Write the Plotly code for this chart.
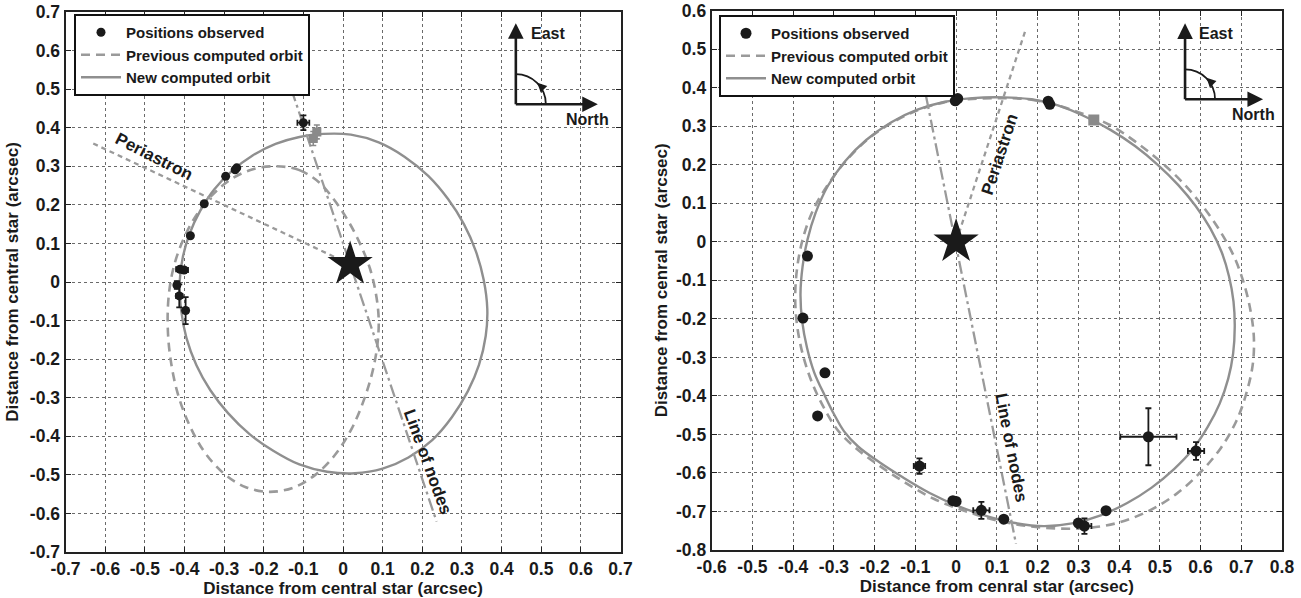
import plotly.graph_objects as go

# ---------------- data ----------------
# Left panel
LEFT_OBS_X = [-0.100, -0.268, -0.272, -0.296, -0.350, -0.385, -0.411, -0.401, -0.419, -0.413, -0.397]
LEFT_OBS_Y = [0.413, 0.296, 0.291, 0.274, 0.203, 0.120, 0.033, 0.031, -0.008, -0.036, -0.074]
LEFT_OBS_EX = [0.015, 0.004, 0.0, 0.0, 0.0, 0.0, 0.010, 0.010, 0.006, 0.008, 0.006]
LEFT_OBS_EY = [0.019, 0.004, 0.0, 0.0, 0.0, 0.0, 0.006, 0.006, 0.010, 0.030, 0.035]
LEFT_GREY_X = [-0.066, -0.075]
LEFT_GREY_Y = [0.389, 0.372]
LEFT_GREY_EX = [0.008, 0.008]
LEFT_GREY_EY = [0.018, 0.018]
LEFT_STAR_X = [0.018]
LEFT_STAR_Y = [0.046]

LEFT_NEW_X = [-0.050, 0.020, 0.090, 0.155, 0.215, 0.265, 0.305, 0.335, 0.355, 0.364, 0.360, 0.343,
              0.315, 0.275, 0.225, 0.165, 0.100, 0.030, -0.040, -0.110, -0.175, -0.235, -0.290,
              -0.335, -0.370, -0.395, -0.408, -0.412, -0.404, -0.387, -0.360, -0.325, -0.280,
              -0.228, -0.170, -0.110, -0.050]
LEFT_NEW_Y = [0.384, 0.382, 0.362, 0.325, 0.275, 0.215, 0.150, 0.080, 0.005, -0.070, -0.140, -0.215,
              -0.283, -0.350, -0.410, -0.455, -0.484, -0.496, -0.492, -0.473, -0.438, -0.395, -0.340,
              -0.280, -0.215, -0.145, -0.075, 0.000, 0.065, 0.125, 0.185, 0.240, 0.288,
              0.328, 0.358, 0.376, 0.384]

LEFT_PREV_X = [-0.167, -0.110, -0.060, -0.020, 0.015, 0.045, 0.068, 0.083, 0.090, 0.087, 0.075, 0.053,
               0.022, -0.020, -0.070, -0.125, -0.185, -0.245, -0.300, -0.350, -0.390, -0.418, -0.435,
               -0.442, -0.440, -0.428, -0.405, -0.372, -0.330, -0.280, -0.225, -0.167]
LEFT_PREV_Y = [0.300, 0.290, 0.258, 0.210, 0.155, 0.095, 0.035, -0.030, -0.095, -0.160, -0.230, -0.305,
               -0.380, -0.448, -0.500, -0.533, -0.544, -0.532, -0.497, -0.440, -0.365, -0.285, -0.200,
               -0.120, -0.040, 0.035, 0.105, 0.170, 0.225, 0.268, 0.293, 0.300]

LEFT_PERI_X = [-0.630, 0.018]
LEFT_PERI_Y = [0.359, 0.046]
LEFT_NODES_X = [-0.150, 0.236]
LEFT_NODES_Y = [0.560, -0.621]

# Right panel
RIGHT_OBS_X = [0.004, -0.002, 0.226, 0.230, -0.365, -0.376, -0.322, -0.340, -0.090, -0.008, 0.000,
               0.062, 0.117, 0.300, 0.315, 0.368, 0.472, 0.589]
RIGHT_OBS_Y = [0.372, 0.366, 0.365, 0.357, -0.037, -0.198, -0.340, -0.452, -0.582, -0.672, -0.674,
               -0.697, -0.720, -0.730, -0.738, -0.698, -0.506, -0.543]
RIGHT_OBS_EX = [0.006, 0.006, 0.006, 0.006, 0.0, 0.0, 0.008, 0.008, 0.014, 0.006, 0.006,
                0.020, 0.0, 0.006, 0.017, 0.0, 0.069, 0.020]
RIGHT_OBS_EY = [0.006, 0.006, 0.008, 0.008, 0.0, 0.0, 0.008, 0.008, 0.020, 0.006, 0.006,
                0.022, 0.0, 0.006, 0.020, 0.0, 0.074, 0.023]
RIGHT_GREY_X = [0.338]
RIGHT_GREY_Y = [0.316]
RIGHT_GREY_EX = [0.010]
RIGHT_GREY_EY = [0.010]
RIGHT_STAR_X = [0.000]
RIGHT_STAR_Y = [0.000]

RIGHT_NEW_X = [0.116, 0.185, 0.250, 0.315, 0.380, 0.440, 0.495, 0.545, 0.588, 0.624, 0.652, 0.670,
               0.681, 0.684, 0.680, 0.668, 0.647, 0.618, 0.580, 0.535, 0.480, 0.420, 0.355, 0.285,
               0.215, 0.145, 0.075, 0.005, -0.065, -0.130, -0.190, -0.240, -0.275, -0.300, -0.322,
               -0.348, -0.366, -0.378, -0.382, -0.377, -0.365, -0.345, -0.315, -0.272, -0.220,
               -0.160, -0.095, -0.030, 0.040, 0.116]
RIGHT_NEW_Y = [0.375, 0.370, 0.354, 0.326, 0.290, 0.248, 0.200, 0.148, 0.093, 0.035, -0.027, -0.090,
               -0.155, -0.220, -0.290, -0.355, -0.420, -0.480, -0.540, -0.590, -0.638, -0.678, -0.710,
               -0.731, -0.738, -0.730, -0.712, -0.686, -0.652, -0.612, -0.571, -0.532, -0.492, -0.447,
               -0.400, -0.340, -0.275, -0.205, -0.135, -0.065, 0.005, 0.075, 0.145, 0.210, 0.265,
               0.310, 0.343, 0.363, 0.373, 0.375]

RIGHT_PREV_X = [0.116, 0.185, 0.250, 0.315, 0.380, 0.440, 0.500, 0.555, 0.605, 0.648, 0.683, 0.707,
                0.723, 0.731, 0.728, 0.712, 0.688, 0.650, 0.600, 0.540, 0.470, 0.395, 0.320, 0.245,
                0.170, 0.095, 0.020, -0.055, -0.125, -0.194, -0.250, -0.292, -0.325, -0.355, -0.377,
                -0.390, -0.395, -0.391, -0.377, -0.352, -0.318, -0.272, -0.218, -0.158, -0.093,
                -0.030, 0.040, 0.116]
RIGHT_PREV_Y = [0.373, 0.369, 0.354, 0.331, 0.302, 0.260, 0.210, 0.155, 0.093, 0.028, -0.040, -0.110,
                -0.180, -0.250, -0.320, -0.395, -0.465, -0.535, -0.598, -0.655, -0.700, -0.730, -0.743,
                -0.744, -0.737, -0.722, -0.698, -0.667, -0.625, -0.577, -0.532, -0.487, -0.430, -0.362,
                -0.290, -0.220, -0.150, -0.074, 0.005, 0.080, 0.143, 0.208, 0.265, 0.309, 0.342,
                0.362, 0.371, 0.373]

RIGHT_PERI_X = [0.000, 0.172]
RIGHT_PERI_Y = [0.000, 0.555]
RIGHT_NODES_X = [-0.097, 0.147]
RIGHT_NODES_Y = [0.500, -0.784]

# axis ticks
LEFT_X_TICKS = [-0.7, -0.6, -0.5, -0.4, -0.3, -0.2, -0.1, 0.0, 0.1, 0.2, 0.3, 0.4, 0.5, 0.6, 0.7]
LEFT_X_LABELS = ["-0.7", "-0.6", "-0.5", "-0.4", "-0.3", "-0.2", "-0.1", "0", "0.1", "0.2", "0.3", "0.4", "0.5", "0.6", "0.7"]
LEFT_Y_TICKS = LEFT_X_TICKS
LEFT_Y_LABELS = LEFT_X_LABELS
RIGHT_X_TICKS = [-0.6, -0.5, -0.4, -0.3, -0.2, -0.1, 0.0, 0.1, 0.2, 0.3, 0.4, 0.5, 0.6, 0.7, 0.8]
RIGHT_X_LABELS = ["-0.6", "-0.5", "-0.4", "-0.3", "-0.2", "-0.1", "0", "0.1", "0.2", "0.3", "0.4", "0.5", "0.6", "0.7", "0.8"]
RIGHT_Y_TICKS = [-0.8, -0.7, -0.6, -0.5, -0.4, -0.3, -0.2, -0.1, 0.0, 0.1, 0.2, 0.3, 0.4, 0.5, 0.6]
RIGHT_Y_LABELS = ["-0.8", "-0.7", "-0.6", "-0.5", "-0.4", "-0.3", "-0.2", "-0.1", "0", "0.1", "0.2", "0.3", "0.4", "0.5", "0.6"]

# ---------------- styling / layout ----------------
FONT = "Liberation Sans, Arial, Helvetica, sans-serif"
INK = "#1a1a1a"
GREY_SOLID = "#8f8f8f"
GREY_DASH = "#9a9a9a"

W, H = 1301, 598
M = dict(l=65, r=19, t=10, b=46)
PW = W - M["l"] - M["r"]
PH = H - M["t"] - M["b"]


def xdom(a, b):
    return [max(0.0, (a - M["l"]) / PW), min(1.0, (b - M["l"]) / PW)]


def ydom(top, bottom):
    return [max(0.0, (H - M["b"] - bottom) / PH), min(1.0, (H - M["b"] - top) / PH)]


fig = go.Figure()


def add_panel(xa, ya, legend, new_x, new_y, prev_x, prev_y, peri_x, peri_y, nodes_x, nodes_y,
              obs_x, obs_y, obs_ex, obs_ey, gx, gy, gex, gey, sx, sy, msize):
    fig.add_trace(go.Scatter(x=prev_x, y=prev_y, mode="lines", name="Previous computed orbit",
                             line=dict(color=GREY_DASH, width=2.6, dash="9px,6px", shape="spline",
                                       smoothing=1.0, simplify=False),
                             xaxis=xa, yaxis=ya, legend=legend, legendrank=2, hoverinfo="skip"))
    fig.add_trace(go.Scatter(x=new_x, y=new_y, mode="lines", name="New computed orbit",
                             line=dict(color=GREY_SOLID, width=2.4, shape="spline", smoothing=1.0,
                                       simplify=False),
                             xaxis=xa, yaxis=ya, legend=legend, legendrank=3, hoverinfo="skip"))
    fig.add_trace(go.Scatter(x=peri_x, y=peri_y, mode="lines", showlegend=False,
                             line=dict(color=GREY_DASH, width=2.3, dash="5px,4px"),
                             xaxis=xa, yaxis=ya, hoverinfo="skip"))
    fig.add_trace(go.Scatter(x=nodes_x, y=nodes_y, mode="lines", showlegend=False,
                             line=dict(color=GREY_DASH, width=2.3, dash="13px,4px,3px,4px"),
                             xaxis=xa, yaxis=ya, hoverinfo="skip"))
    fig.add_trace(go.Scatter(x=gx, y=gy, mode="markers", showlegend=False,
                             marker=dict(color="#8a8a8a", size=msize, symbol="square"),
                             error_x=dict(type="data", array=gex, color="#8a8a8a", thickness=1.6, width=3),
                             error_y=dict(type="data", array=gey, color="#8a8a8a", thickness=1.6, width=3),
                             xaxis=xa, yaxis=ya))
    fig.add_trace(go.Scatter(x=obs_x, y=obs_y, mode="markers", name="Positions observed",
                             marker=dict(color=INK, size=msize, symbol="circle"),
                             error_x=dict(type="data", array=obs_ex, color=INK, thickness=1.8, width=3),
                             error_y=dict(type="data", array=obs_ey, color=INK, thickness=1.8, width=3),
                             xaxis=xa, yaxis=ya, legend=legend, legendrank=1))
    fig.add_trace(go.Scatter(x=sx, y=sy, mode="markers", showlegend=False,
                             marker=dict(color=INK, size=34, symbol="star"),
                             xaxis=xa, yaxis=ya))


add_panel("x", "y", "legend", LEFT_NEW_X, LEFT_NEW_Y, LEFT_PREV_X, LEFT_PREV_Y,
          LEFT_PERI_X, LEFT_PERI_Y, LEFT_NODES_X, LEFT_NODES_Y,
          LEFT_OBS_X, LEFT_OBS_Y, LEFT_OBS_EX, LEFT_OBS_EY,
          LEFT_GREY_X, LEFT_GREY_Y, LEFT_GREY_EX, LEFT_GREY_EY, LEFT_STAR_X, LEFT_STAR_Y, 9)
add_panel("x2", "y2", "legend2", RIGHT_NEW_X, RIGHT_NEW_Y, RIGHT_PREV_X, RIGHT_PREV_Y,
          RIGHT_PERI_X, RIGHT_PERI_Y, RIGHT_NODES_X, RIGHT_NODES_Y,
          RIGHT_OBS_X, RIGHT_OBS_Y, RIGHT_OBS_EX, RIGHT_OBS_EY,
          RIGHT_GREY_X, RIGHT_GREY_Y, RIGHT_GREY_EX, RIGHT_GREY_EY, RIGHT_STAR_X, RIGHT_STAR_Y, 11)

tick_font = dict(family=FONT, size=17.5, color=INK, weight="bold")
title_font = dict(family=FONT, size=17, color=INK, weight="bold")


def axis(rng, ticks, labels, dom, title, anchor, standoff):
    return dict(range=rng, domain=dom, anchor=anchor, tickmode="array", tickvals=ticks,
                ticktext=["<b>%s</b>" % t for t in labels],
                showgrid=True, gridcolor="#6a6a6a", griddash="dot", gridwidth=1, zeroline=False,
                showline=True, linecolor="#222222", linewidth=2, mirror="ticks",
                ticks="inside", ticklen=5, tickwidth=1.3, tickcolor="#222222",
                tickfont=tick_font, automargin=False, ticklabeloverflow="allow",
                title=dict(text="<b>%s</b>" % title, font=title_font, standoff=standoff))


layout_axes = dict(
    xaxis=axis([-0.7, 0.7], LEFT_X_TICKS, LEFT_X_LABELS, xdom(65.5, 620.5),
               "Distance from central star (arcsec)", "y", 4),
    yaxis=axis([-0.7, 0.7], LEFT_Y_TICKS, LEFT_Y_LABELS, ydom(12, 552.3),
               "Distance from central star (arcsec)", "x", 7),
    xaxis2=axis([-0.6, 0.8], RIGHT_X_TICKS, RIGHT_X_LABELS, xdom(711.7, 1282),
                "Distance from cenral star (arcsec)", "y2", 4),
    yaxis2=axis([-0.8, 0.6], RIGHT_Y_TICKS, RIGHT_Y_LABELS, ydom(10.7, 550),
                "Distance from cenral star (arcsec)", "x2", 4),
)

legend_style = dict(xanchor="left", yanchor="top", bgcolor="white", bordercolor="#111111", borderwidth=2,
                    font=dict(family=FONT, size=15, color=INK, weight="bold"), itemwidth=40,
                    tracegroupgap=0, traceorder="normal")

fig.update_layout(
    width=W, height=H, margin=dict(l=M["l"], r=M["r"], t=M["t"], b=M["b"], pad=0),
    paper_bgcolor="white", plot_bgcolor="white",
    font=dict(family=FONT, color=INK),
    showlegend=True,
    legend=dict(x=(74 - M["l"]) / PW, y=(H - M["b"] - 14) / PH, **legend_style),
    legend2=dict(x=(719 - M["l"]) / PW, y=(H - M["b"] - 15) / PH, **legend_style),
    **layout_axes,
)

label_font = dict(family=FONT, size=17, color=INK, weight="bold")
compass_font = dict(family=FONT, size=16, color=INK, weight="bold")
annotations = [
    dict(x=-0.478, y=0.325, xref="x", yref="y", text="Periastron", textangle=27, showarrow=False, font=label_font),
    dict(x=0.214, y=-0.468, xref="x", yref="y", text="Line of nodes", textangle=70, showarrow=False, font=label_font),
    dict(x=0.106, y=0.228, xref="x2", yref="y2", text="Periastron", textangle=-72, showarrow=False, font=label_font),
    dict(x=0.135, y=-0.534, xref="x2", yref="y2", text="Line of nodes", textangle=79, showarrow=False, font=label_font),
]

shapes = []
# compass roses: (xref, yref, corner x, corner y, up-arrow px, right-arrow px, East pos, North pos)
COMPASS = [
    ("x", "y", 0.436, 0.461, 81, 82, (0.517, 0.645), (0.616, 0.420)),
    ("x2", "y2", 0.562, 0.370, 76, 78, (0.637, 0.542), (0.729, 0.330)),
]
for xr, yr, cx, cy, up, right, east, north in COMPASS:
    # shafts
    annotations.append(dict(x=cx, y=cy, xref=xr, yref=yr, text="", showarrow=True, ax=right - 6, ay=0,
                            arrowhead=0, arrowwidth=2.6, arrowcolor=INK, standoff=0))
    annotations.append(dict(x=cx, y=cy, xref=xr, yref=yr, text="", showarrow=True, ax=0, ay=-(up - 6),
                            arrowhead=0, arrowwidth=2.6, arrowcolor=INK, standoff=0))
    # heads
    annotations.append(dict(x=cx, y=cy, xref=xr, yref=yr, text="", showarrow=True, ax=-10, ay=0,
                            xshift=right, arrowhead=2, arrowsize=1.2, arrowwidth=2.6, arrowcolor=INK))
    annotations.append(dict(x=cx, y=cy, xref=xr, yref=yr, text="", showarrow=True, ax=0, ay=10,
                            yshift=up, arrowhead=2, arrowsize=1.2, arrowwidth=2.6, arrowcolor=INK))
    # arrowhead on the arc
    annotations.append(dict(x=cx, y=cy, xref=xr, yref=yr, text="", showarrow=True, ax=5, ay=5,
                            xshift=21.5, yshift=21.5, arrowhead=2, arrowsize=1.1, arrowwidth=1.7, arrowcolor=INK))
    annotations.append(dict(x=east[0], y=east[1], xref=xr, yref=yr, text="East", showarrow=False, font=compass_font))
    annotations.append(dict(x=north[0], y=north[1], xref=xr, yref=yr, text="North", showarrow=False, font=compass_font))
    shapes.append(dict(type="path", xref=xr, yref=yr, xsizemode="pixel", ysizemode="pixel",
                       xanchor=cx, yanchor=cy, path="M 0,30 C 16.6,30 30,16.6 30,0",
                       line=dict(color=INK, width=1.8)))

fig.update_layout(annotations=annotations, shapes=shapes)

fig.write_html("out.html", config={"displayModeBar": False},
               post_script="document.body.style.margin='0px';document.body.style.overflow='hidden';")
